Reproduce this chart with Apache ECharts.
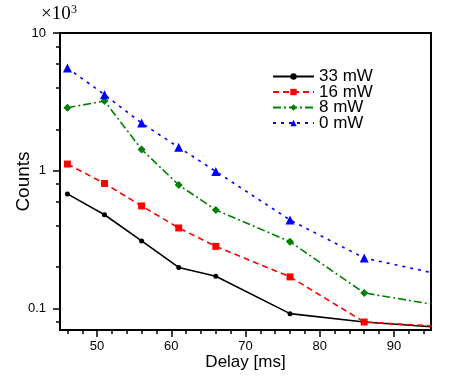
<!DOCTYPE html>
<html>
<head>
<meta charset="utf-8">
<script src="https://cdn.jsdelivr.net/npm/echarts@6/dist/echarts.min.js"></script>
<style>
  html, body { margin: 0; padding: 0; background: #fff; }
  #chart { width: 460px; height: 380px; }
</style>
</head>
<body>
<div id="chart"></div>
<script>
// delay values (ms) where points were measured
var delays = [46, 51, 56, 61, 66, 76, 86, 95];
// counts in units of 10^3
var counts33 = [0.68, 0.48, 0.31, 0.199, 0.172, 0.092, 0.080, 0.074];
var counts16 = [1.12, 0.81, 0.556, 0.385, 0.283, 0.170, 0.080, 0.075];
var counts8 = [2.87, 3.21, 1.43, 0.79, 0.52, 0.306, 0.130, 0.108];
var counts0 = [5.57, 3.57, 2.22, 1.48, 0.99, 0.44, 0.233, 0.183];
var seriesNames = ['33 mW', '16 mW', '8 mW', '0 mW'];

var xMajor = [50, 60, 70, 80, 90];
var xMinor = [46, 48, 52, 54, 56, 58, 62, 64, 66, 68, 72, 74, 76, 78, 82, 84, 86, 88, 92, 94];
var yMajor = [0.1, 1, 10];
var yMinor = [0.08, 0.2, 0.4, 0.6, 0.8, 2, 4, 6, 8];

var font = 'Liberation Sans';

// last point sits on the right frame edge: line continues there without a marker
const makeData = (vals) => {
  return delays.map((d, i) => {
    if (i === delays.length - 1) return { value: [d, vals[i]], symbol: 'none' };
    return [d, vals[i]];
  });
};

var chart = echarts.init(document.getElementById('chart'));

var styles = [
  { color: '#000000', type: 'solid', symbol: 'circle', size: 5 },
  { color: '#ff0000', type: [6, 4], symbol: 'rect', size: 7 },
  { color: '#008000', type: [8, 3, 2, 3], symbol: 'diamond', size: 8 },
  { color: '#0000ff', type: [3, 5], symbol: 'triangle', size: 9 }
];
var allVals = [counts33, counts16, counts8, counts0];

chart.setOption({
  animation: false,
  graphic: [
    {
      type: 'text', left: 41, top: 5,
      style: { text: '×10', font: '19px "Liberation Serif"', fill: '#000' }
    },
    {
      type: 'text', left: 71, top: 4,
      style: { text: '3', font: '12px "Liberation Serif"', fill: '#000' }
    }
  ],
  legend: {
    orient: 'vertical',
    left: 272,
    top: 68,
    padding: 0,
    itemWidth: 41,
    itemHeight: 8,
    itemGap: -1.5,
    data: seriesNames,
    textStyle: { fontFamily: font, fontSize: 17, lineHeight: 15, color: '#000' }
  },
  grid: {
    left: 60, right: 29, top: 33, bottom: 50,
    outerBoundsMode: 'none',
    containLabel: false,
    show: true,
    borderColor: '#000',
    borderWidth: 2
  },
  xAxis: [
    {
      type: 'value',
      min: 45, max: 95,
      name: 'Delay [ms]',
      nameLocation: 'middle',
      nameGap: 24,
      nameMoveOverlap: false,
      nameTextStyle: { fontFamily: font, fontSize: 17, color: '#000' },
      axisLine: { lineStyle: { color: '#000', width: 2 } },
      axisTick: { show: true, inside: false, length: 7, customValues: xMajor, lineStyle: { color: '#000', width: 1.5 } },
      axisLabel: { customValues: xMajor, margin: 10, fontFamily: font, fontSize: 13, color: '#000' },
      splitLine: { show: false }
    },
    {
      type: 'value',
      min: 45, max: 95,
      position: 'bottom',
      axisLine: { show: false },
      axisTick: { show: true, length: 4, customValues: xMinor, lineStyle: { color: '#000', width: 1.5 } },
      axisLabel: { show: false },
      splitLine: { show: false }
    }
  ],
  yAxis: [
    {
      type: 'log',
      min: 0.07, max: 10,
      name: 'Counts',
      nameLocation: 'middle',
      nameGap: 27,
      nameRotate: 90,
      nameMoveOverlap: false,
      nameTextStyle: { fontFamily: font, fontSize: 19, color: '#000' },
      axisLine: { show: true, lineStyle: { color: '#000', width: 2 } },
      axisTick: { show: true, length: 7, customValues: yMajor, lineStyle: { color: '#000', width: 1.5 } },
      axisLabel: { customValues: yMajor, margin: 14, fontFamily: font, fontSize: 13, color: '#000' },
      splitLine: { show: false }
    },
    {
      type: 'log',
      min: 0.07, max: 10,
      position: 'left',
      axisLine: { show: false },
      axisTick: { show: true, length: 4, customValues: yMinor, lineStyle: { color: '#000', width: 1.5 } },
      axisLabel: { show: false },
      splitLine: { show: false }
    }
  ],
  series: seriesNames.map((name, i) => {
    var s = styles[i];
    return {
      name: name,
      type: 'line',
      xAxisIndex: 0,
      yAxisIndex: 0,
      data: makeData(allVals[i]),
      symbol: s.symbol,
      symbolSize: s.size,
      showAllSymbol: true,
      clip: true,
      lineStyle: { color: s.color, width: 1.6, type: s.type },
      itemStyle: { color: s.color }
    };
  })
});
</script>
</body>
</html>
